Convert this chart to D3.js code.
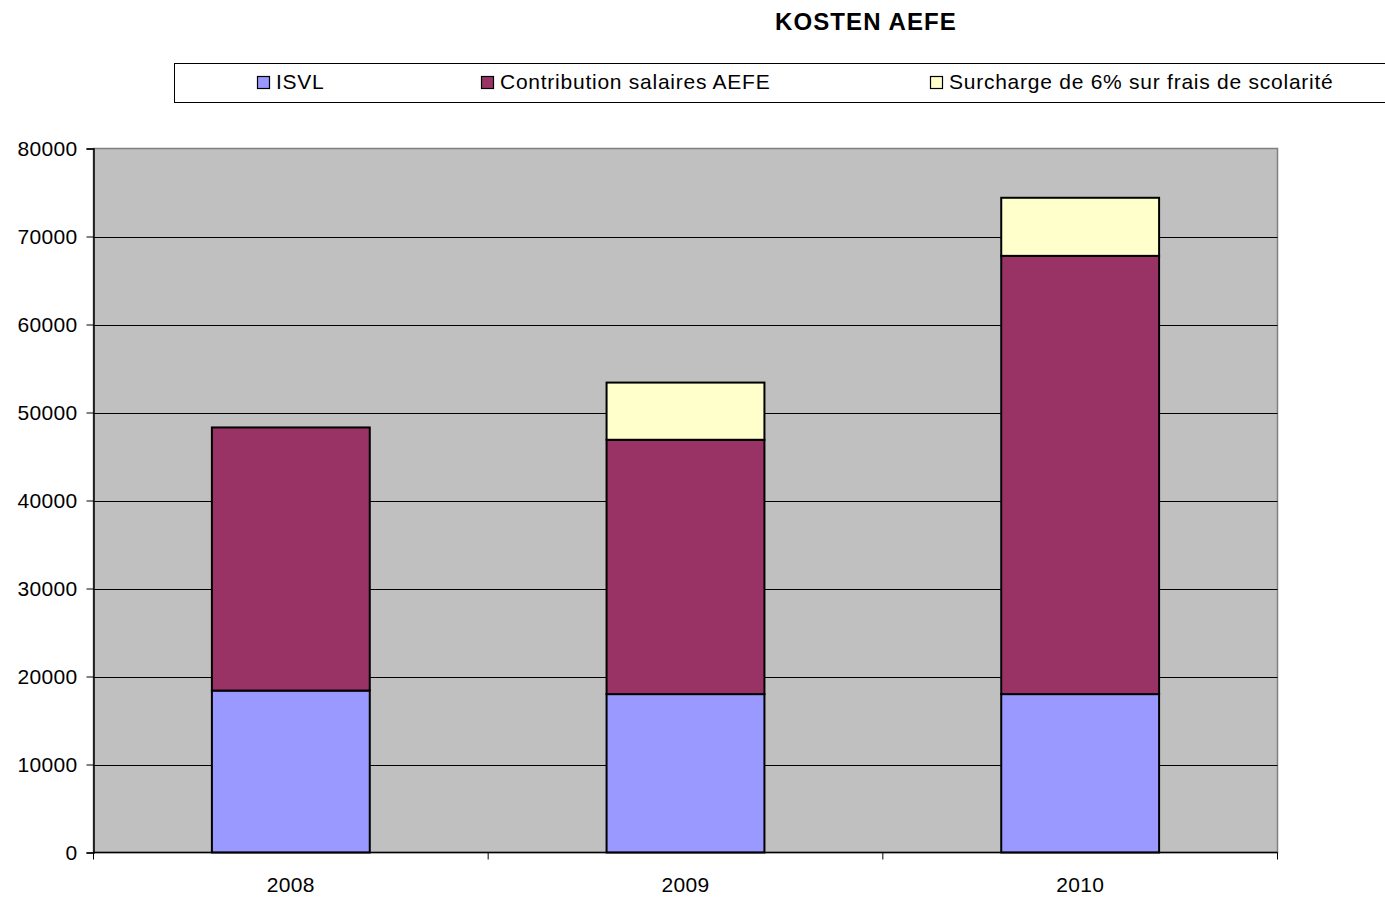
<!DOCTYPE html>
<html><head><meta charset="utf-8">
<script src="https://cdn.jsdelivr.net/npm/d3@7"></script>
<style>body{margin:0;background:#fff;} svg{display:block;font-family:"Liberation Sans",Arial,sans-serif;}</style>
</head><body>
<svg id="c" width="1385" height="898"></svg>
<script>
const title = "KOSTEN AEFE";
const categories = ["2008", "2009", "2010"];
const seriesNames = ["ISVL", "Contribution salaires AEFE", "Surcharge de 6% sur frais de scolarité"];
const isvl = [18400, 18000, 18000];
const contribution = [29900, 28900, 49800];
const surcharge = [0, 6500, 6600];
const yTicks = [0, 10000, 20000, 30000, 40000, 50000, 60000, 70000, 80000];
const colors = ["#9999FF", "#993366", "#FFFFCC"];

const svg = d3.select("#c");
const L = 93.5, R = 1277.5, T = 148.5, B = 852.5;
const x = d3.scaleBand().domain(categories).range([L, R]).paddingInner(0.6).paddingOuter(0.3);
const xb = d3.scaleBand().domain(categories).range([L, R]);
const y = d3.scaleLinear().domain([0, 80000]).range([B, T]);

// plot background
svg.append("rect").attr("x", L).attr("y", T).attr("width", R - L).attr("height", B - T)
  .attr("fill", "#C0C0C0").attr("stroke", "#808080").attr("stroke-width", 1.5);

// gridlines
svg.append("g").selectAll("line").data(yTicks.filter(d => d > 0 && d < 80000)).join("line")
  .attr("x1", L).attr("x2", R).attr("y1", d => Math.round(y(d)) + 0.5).attr("y2", d => Math.round(y(d)) + 0.5)
  .attr("stroke", "#000").attr("stroke-width", 1);

// stacked bars
const rows = categories.map((c, i) => ({cat: c, s0: isvl[i], s1: contribution[i], s2: surcharge[i]}));
const stack = d3.stack().keys(["s0", "s1", "s2"])(rows);
svg.append("g").selectAll("g").data(stack).join("g")
  .attr("fill", (d, i) => colors[i])
  .selectAll("rect").data(d => d.filter(v => v[1] > v[0])).join("rect")
  .attr("x", d => x(d.data.cat)).attr("width", x.bandwidth())
  .attr("y", d => y(d[1])).attr("height", d => y(d[0]) - y(d[1]))
  .attr("stroke", "#000").attr("stroke-width", 2);

// y axis
const ya = d3.axisLeft(y).tickValues(yTicks).tickSize(7).tickPadding(9).tickFormat(d3.format("d"));
const yg = svg.append("g").attr("transform", `translate(${L},0)`).call(ya);
yg.select(".domain").attr("stroke", "#000").attr("stroke-width", 1.5);
yg.selectAll(".tick line").attr("stroke", "#000");
yg.selectAll("text").attr("font-size", 21).attr("letter-spacing", 0.3).attr("fill", "#000").attr("font-family", "Liberation Sans, Arial, sans-serif");

// x axis
svg.append("line").attr("x1", L).attr("x2", R).attr("y1", B).attr("y2", B).attr("stroke", "#000").attr("stroke-width", 1.5);
const bounds = categories.map(c => xb(c)).concat([R]);
svg.append("g").selectAll("line").data(bounds).join("line")
  .attr("x1", d => d).attr("x2", d => d).attr("y1", B).attr("y2", B + 7).attr("stroke", "#000");
svg.append("g").selectAll("text").data(categories).join("text")
  .attr("x", d => xb(d) + xb.bandwidth() / 2).attr("y", 892).attr("text-anchor", "middle")
  .attr("font-size", 21).attr("letter-spacing", 0.3).attr("fill", "#000").text(d => d);

// title
svg.append("text").attr("x", 866).attr("y", 30).attr("text-anchor", "middle")
  .attr("font-size", 24).attr("letter-spacing", 1.1).attr("font-weight", "bold").text(title);

// legend
svg.append("rect").attr("x", 174.5).attr("y", 63.5).attr("width", 1215).attr("height", 39)
  .attr("fill", "#fff").attr("stroke", "#000").attr("stroke-width", 1);
const legX = [257, 481, 930];
const lg = svg.append("g").selectAll("g").data(seriesNames).join("g")
  .attr("transform", (d, i) => `translate(${legX[i]},0)`);
lg.append("rect").attr("x", 0.5).attr("y", 76.5).attr("width", 12).attr("height", 12)
  .attr("fill", (d, i) => colors[i]).attr("stroke", "#000").attr("stroke-width", 1.2);
lg.append("text").attr("x", 19).attr("y", 89).attr("font-size", 21).attr("letter-spacing", 0.75).attr("fill", "#000").text(d => d);
</script>
</body></html>
